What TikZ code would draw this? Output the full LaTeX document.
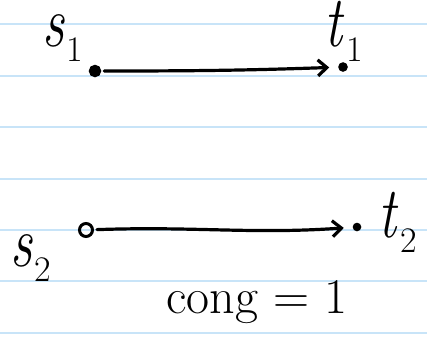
\documentclass[tikz,border=0pt]{standalone}
\usetikzlibrary{arrows.meta}
\definecolor{ruled}{RGB}{200,228,248}
\newcommand\hlab[2]{\scalebox{1.1}[1.45]{\textit{#1}}\kern2pt\raisebox{-0.3em}{\fontsize{36}{36}\selectfont #2}}
\tikzset{
  rule/.style={draw=ruled, line width=2pt},
  vdot/.style={circle, draw, fill=black, line width=1.5pt, inner sep=0pt, minimum size=#1},
  vring/.style={circle, draw, line width=3pt, inner sep=0pt, minimum size=13pt},
  hand/.style={font=\fontsize{50}{52}\selectfont, inner sep=0pt},
  conn/.style={line width=3.2pt, line cap=round, -{Straight Barb[length=9pt,width=16pt,line width=3.2pt]}, shorten >=9pt, shorten <=3pt}
}
\begin{document}
\begin{tikzpicture}[x=1pt,y=-1pt]
\useasboundingbox (0,0) rectangle (427,351);
\fill[white] (0,0) rectangle (427,351);
\foreach \yy in {24,75.5,127,178.5,229.5,281,332.5}
  \draw[rule] (0,\yy) -- (427,\yy);
% nodes
\node[vdot=11pt] (s1) at (95,71) {};
\node[vdot=8pt] (t1) at (343,67) {};
\node[vring] (s2) at (86,230) {};
\node[vdot=7pt] (t2) at (357,227) {};
% labels
\node[hand, anchor=base west] (s1lab) at (42,46) {\hlab{s}{1}};
\node[hand, anchor=base west] (t1lab) at (324,46) {\hlab{t}{1}};
\node[hand, anchor=base west] (s2lab) at (10,266) {\hlab{s}{2}};
\node[hand, anchor=base west] (t2lab) at (378,237) {\hlab{t}{2}};
\node[hand, anchor=base] (cong) at (257,313) {cong = 1};
% connectors
\draw[conn] (s1) to[out=0, in=182] (t1);
\draw[conn] (s2) to[out=2, in=184] (t2);
\end{tikzpicture}
\end{document}
